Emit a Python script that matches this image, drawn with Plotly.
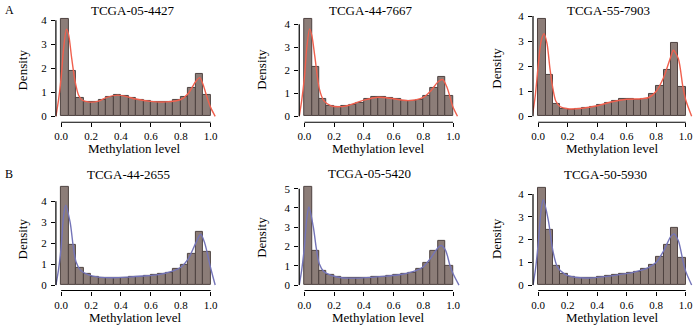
import plotly.graph_objects as go

# ---------------- data ----------------
bin_left = [0.00, 0.05, 0.10, 0.15, 0.20, 0.25, 0.30, 0.35, 0.40, 0.45,
            0.50, 0.55, 0.60, 0.65, 0.70, 0.75, 0.80, 0.85, 0.90, 0.95]
bin_width = 0.05

titles = ["TCGA-05-4427", "TCGA-44-7667", "TCGA-55-7903",
          "TCGA-44-2655", "TCGA-05-5420", "TCGA-50-5930"]

hist_0 = [4.04, 1.88, 0.75, 0.59, 0.59, 0.70, 0.81, 0.87, 0.86, 0.75,
          0.68, 0.63, 0.60, 0.59, 0.61, 0.67, 0.79, 1.17, 1.77, 0.90]
hist_1 = [4.21, 2.13, 0.75, 0.47, 0.42, 0.43, 0.50, 0.60, 0.74, 0.82,
          0.84, 0.80, 0.74, 0.68, 0.67, 0.72, 0.88, 1.22, 1.72, 0.88]
hist_2 = [3.87, 1.65, 0.50, 0.30, 0.27, 0.29, 0.33, 0.39, 0.44, 0.52,
          0.60, 0.68, 0.68, 0.67, 0.70, 0.88, 1.20, 1.84, 2.94, 1.16]
hist_3 = [4.66, 1.92, 0.83, 0.52, 0.41, 0.36, 0.34, 0.34, 0.36, 0.38,
          0.41, 0.44, 0.47, 0.53, 0.60, 0.75, 0.98, 1.48, 2.55, 1.58]
hist_4 = [5.08, 1.76, 0.73, 0.53, 0.44, 0.39, 0.36, 0.36, 0.39, 0.41,
          0.43, 0.48, 0.51, 0.56, 0.63, 0.85, 1.16, 1.76, 2.27, 1.02]
hist_5 = [4.26, 2.42, 0.86, 0.48, 0.38, 0.33, 0.32, 0.32, 0.35, 0.40,
          0.44, 0.48, 0.53, 0.60, 0.72, 0.90, 1.22, 1.78, 2.50, 1.18]

dens_x_0 = [-0.035, -0.018, 0.0, 0.016, 0.036, 0.05, 0.071, 0.093, 0.116, 0.14, 0.18, 0.25,
            0.30, 0.38, 0.45, 0.50, 0.60, 0.70, 0.80, 0.85, 0.90, 0.927, 0.95, 0.975, 1.0, 1.03]
dens_y_0 = [0.0, 0.65, 1.6, 2.8, 3.63, 3.4, 2.4, 1.47, 0.89, 0.68, 0.60, 0.63,
            0.78, 0.88, 0.80, 0.72, 0.62, 0.60, 0.70, 0.95, 1.45, 1.61, 1.3, 0.8, 0.36, 0.0]

dens_x_1 = [-0.035, -0.018, 0.0, 0.016, 0.035, 0.05, 0.07, 0.10, 0.13, 0.18, 0.25,
            0.30, 0.40, 0.50, 0.60, 0.70, 0.80, 0.85, 0.90, 0.93, 0.96, 1.0, 1.03]
dens_y_1 = [0.0, 0.7, 1.7, 3.0, 3.8, 3.5, 2.6, 1.2, 0.68, 0.45, 0.42,
            0.48, 0.70, 0.83, 0.76, 0.68, 0.82, 1.1, 1.5, 1.6, 1.25, 0.4, 0.0]

dens_x_2 = [-0.04, -0.02, 0.0, 0.02, 0.04, 0.06, 0.08, 0.10, 0.12, 0.15, 0.20,
            0.30, 0.40, 0.50, 0.60, 0.70, 0.75, 0.80, 0.85, 0.90, 0.916, 0.95, 0.98, 1.0, 1.04]
dens_y_2 = [0.0, 0.8, 2.0, 3.0, 3.3, 2.9, 1.9, 1.1, 0.6, 0.38, 0.30,
            0.32, 0.42, 0.58, 0.68, 0.70, 0.75, 1.0, 1.55, 2.4, 2.64, 2.3, 1.2, 0.65, 0.0]

dens_x_3 = [-0.035, -0.018, 0.0, 0.015, 0.03, 0.06, 0.08, 0.10, 0.13, 0.18, 0.25,
            0.35, 0.45, 0.55, 0.65, 0.75, 0.80, 0.85, 0.90, 0.933, 0.96, 1.0, 1.03]
dens_y_3 = [0.0, 0.7, 1.8, 3.2, 3.8, 3.0, 1.9, 1.1, 0.70, 0.50, 0.38,
            0.35, 0.38, 0.43, 0.50, 0.68, 0.85, 1.25, 2.0, 2.42, 2.0, 0.8, 0.0]

dens_x_4 = [-0.035, -0.018, 0.0, 0.015, 0.03, 0.06, 0.08, 0.10, 0.13, 0.18, 0.25,
            0.35, 0.45, 0.55, 0.65, 0.75, 0.80, 0.85, 0.90, 0.92, 0.95, 0.98, 1.0, 1.04]
dens_y_4 = [0.0, 0.8, 2.0, 3.4, 4.05, 3.0, 1.9, 1.1, 0.70, 0.50, 0.38,
            0.36, 0.40, 0.46, 0.55, 0.75, 0.95, 1.4, 1.95, 2.05, 1.8, 1.0, 0.6, 0.0]

dens_x_5 = [-0.035, -0.018, 0.0, 0.02, 0.035, 0.07, 0.10, 0.13, 0.18, 0.25,
            0.35, 0.45, 0.55, 0.65, 0.75, 0.80, 0.85, 0.90, 0.92, 0.95, 0.98, 1.0, 1.04]
dens_y_5 = [0.0, 0.7, 1.8, 3.3, 3.75, 2.8, 1.5, 0.80, 0.48, 0.34,
            0.31, 0.37, 0.46, 0.57, 0.78, 1.0, 1.5, 2.15, 2.25, 1.95, 1.1, 0.6, 0.0]

y_ticks_0 = [0, 1, 2, 3, 4]
y_ticks_1 = [0, 1, 2, 3, 4]
y_ticks_2 = [0, 1, 2, 3, 4]
y_ticks_3 = [0, 1, 2, 3, 4]
y_ticks_4 = [0, 1, 2, 3, 4, 5]
y_ticks_5 = [0, 1, 2, 3, 4]
x_ticks = [0.0, 0.2, 0.4, 0.6, 0.8, 1.0]
x_tick_text = ["0.0", "0.2", "0.4", "0.6", "0.8", "1.0"]
panel_letters = ["A", "B"]

hists = [hist_0, hist_1, hist_2, hist_3, hist_4, hist_5]
dens_xs = [dens_x_0, dens_x_1, dens_x_2, dens_x_3, dens_x_4, dens_x_5]
dens_ys = [dens_y_0, dens_y_1, dens_y_2, dens_y_3, dens_y_4, dens_y_5]
y_ticks = [y_ticks_0, y_ticks_1, y_ticks_2, y_ticks_3, y_ticks_4, y_ticks_5]

# ---------------- layout geometry (pixels) ----------------
W, H = 700, 325
FONT = "Liberation Serif, Times New Roman, serif"
col_x0 = [59.3, 303.3, 537.7]        # pixel of x = 0
col_scale = [150.0, 149.0, 148.0]    # px per unit x
row_y0 = [115.0, 284.8]              # pixel of y = 0
row_axis = [121.0, 290.3]            # pixel of x-axis line
row_top = [10.0, 181.0]
y_scale = [24.15, 23.15, 25.2, 21.1, 19.4, 22.9]
x_lo, x_hi = -0.035, 1.07

title_pos = [(131.7, 8.3), (370, 8.3), (608.3, 8.3),
             (127, 173.3), (368.3, 173), (605, 173.3)]
dens_lbl = [(21, 68), (260, 68), (496.5, 67),
            (21, 238), (260, 237), (496, 238)]
meth_lbl = [(132.5, 147.5), (376.7, 147.5), (611.7, 147.5),
            (133, 317.3), (376.7, 317.3), (611.7, 317.3)]
letter_pos = [(7.3, 8.3), (6.7, 173.3)]

bar_fill = "#8c7d78"
bar_line = "#4e4240"
curve_colors = ["#f0604e", "#7474b8"]

fig = go.Figure()
shapes = []
annotations = []

for i in range(6):
    r, c = divmod(i, 3)
    ax = "" if i == 0 else str(i + 1)
    xs = col_scale[c]
    left_px = col_x0[c] + x_lo * xs
    right_px = col_x0[c] + x_hi * xs
    ys = y_scale[i]
    bot_px = row_axis[r]
    top_px = row_top[r]
    y_lo = -(bot_px - row_y0[r]) / ys
    y_hi = (row_y0[r] - top_px) / ys

    centers = [b + bin_width / 2 for b in bin_left]
    fig.add_trace(go.Bar(
        x=centers, y=hists[i], width=bin_width,
        marker=dict(color=bar_fill, line=dict(color=bar_line, width=1)),
        xaxis="x" + ax, yaxis="y" + ax, showlegend=False, hoverinfo="skip"))
    fig.add_trace(go.Scatter(
        x=dens_xs[i], y=dens_ys[i], mode="lines",
        line=dict(color=curve_colors[r], width=1.4, shape="spline", smoothing=0.8),
        xaxis="x" + ax, yaxis="y" + ax, showlegend=False, hoverinfo="skip"))

    common = dict(showgrid=False, zeroline=False, showline=False,
                  ticks="outside", ticklen=4, tickwidth=1, tickcolor="black",
                  tickfont=dict(family=FONT, size=11, color="black"))
    fig.layout["xaxis" + ax] = dict(
        domain=[left_px / W, right_px / W], range=[x_lo, x_hi],
        anchor="y" + ax, tickvals=x_ticks, ticktext=x_tick_text,
        ticklabelstandoff=0, **common)
    fig.layout["yaxis" + ax] = dict(
        domain=[1 - bot_px / H, 1 - top_px / H], range=[y_lo, y_hi],
        anchor="x" + ax, tickvals=y_ticks[i], ticklabelstandoff=2, **common)

    xr = "x" + ax
    yr = "y" + ax
    shapes.append(dict(type="line", xref=xr, yref=yr + " domain",
                       x0=x_ticks[0], x1=x_ticks[-1], y0=0, y1=0,
                       line=dict(color="black", width=1.2)))
    shapes.append(dict(type="line", xref=xr + " domain", yref=yr,
                       x0=0, x1=0, y0=y_ticks[i][0], y1=y_ticks[i][-1],
                       line=dict(color="black", width=1.2)))

    tx, ty = title_pos[i]
    annotations.append(dict(text=titles[i], x=tx / W, y=1 - ty / H, xref="paper", yref="paper",
                            showarrow=False, xanchor="center", yanchor="middle",
                            font=dict(family=FONT, size=13, color="black")))
    dx, dy = dens_lbl[i]
    annotations.append(dict(text="Density", x=dx / W, y=1 - dy / H, xref="paper", yref="paper",
                            showarrow=False, xanchor="center", yanchor="middle", textangle=-90,
                            font=dict(family=FONT, size=13, color="black")))
    mx, my = meth_lbl[i]
    annotations.append(dict(text="Methylation level", x=mx / W, y=1 - my / H, xref="paper",
                            yref="paper", showarrow=False, xanchor="center", yanchor="middle",
                            font=dict(family=FONT, size=13, color="black")))

for k, (lx, ly) in enumerate(letter_pos):
    annotations.append(dict(text=panel_letters[k], x=lx / W, y=1 - ly / H, xref="paper",
                            yref="paper", showarrow=False, xanchor="center", yanchor="middle",
                            font=dict(family=FONT, size=12, color="black")))

fig.update_layout(width=W, height=H, margin=dict(l=0, r=0, t=0, b=0),
                  paper_bgcolor="white", plot_bgcolor="white",
                  bargap=0, shapes=shapes, annotations=annotations)

fig.write_html("out.html", config={"displayModeBar": False},
               post_script="document.body.style.margin='0';"
                           "document.body.style.overflow='hidden';")
